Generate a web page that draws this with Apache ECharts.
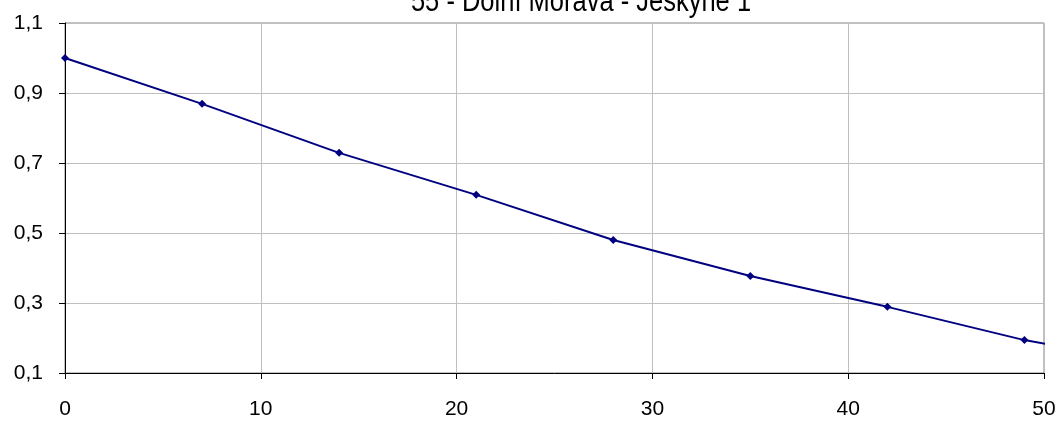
<!DOCTYPE html>
<html>
<head>
<meta charset="utf-8">
<script src="https://cdn.jsdelivr.net/npm/echarts@6/dist/echarts.min.js"></script>
<style>html,body{margin:0;padding:0;background:#fff}#c{width:1062px;height:421px}</style>
</head>
<body>
<div id="c"></div>
<script>
const titleText = '55 - Dolní Morava - Jeskyně 1';
const days = [0, 7, 14, 21, 28, 35, 42, 49, 56];
const values = [1.0, 0.869, 0.729, 0.609, 0.48, 0.377, 0.289, 0.194, 0.126];
const yTicks = [0.1, 0.3, 0.5, 0.7, 0.9, 1.1];
const xTicks = [0, 10, 20, 30, 40, 50];

const FONT = 'Liberation Sans, Arial, sans-serif';
const chart = echarts.init(document.getElementById('c'), null, {renderer: 'canvas'});
chart.setOption({
  animation: false,
  backgroundColor: '#ffffff',
  graphic: [{
    type: 'text', x: 581, y: 4, scaleY: 1.2, originX: 0, originY: 9,
    style: {text: titleText, textAlign: 'center', textVerticalAlign: 'middle',
            font: '25.5px ' + FONT, fill: '#000'}
  }],
  grid: {left: 65, right: 18, top: 23, bottom: 48, show: true, borderColor: '#808080', borderWidth: 1, backgroundColor: 'transparent'},
  xAxis: {
    type: 'value', min: xTicks[0], max: xTicks[xTicks.length - 1], interval: 10,
    axisLine: {show: true, onZero: false, lineStyle: {color: '#000', width: 1}},
    axisTick: {show: true, inside: false, length: 6, lineStyle: {color: '#000'}},
    axisLabel: {color: '#000', fontFamily: FONT, fontSize: 21, margin: 26},
    splitLine: {show: true, lineStyle: {color: '#c0c0c0', width: 1}}
  },
  yAxis: {
    type: 'value', min: yTicks[0], max: yTicks[yTicks.length - 1], interval: 0.2,
    axisLine: {show: true, onZero: false, lineStyle: {color: '#000', width: 1}},
    axisTick: {show: true, inside: false, length: 6, lineStyle: {color: '#000'}},
    axisLabel: {color: '#000', fontFamily: FONT, fontSize: 21, margin: 22,
      formatter: v => (Math.round(v * 10) / 10).toFixed(1).replace('.', ',')},
    splitLine: {show: true, lineStyle: {color: '#c0c0c0', width: 1}}
  },
  series: [{
    type: 'line',
    data: days.map((d, i) => [d, values[i]]),
    clip: true,
    symbol: 'diamond', symbolSize: 8,
    lineStyle: {color: '#000080', width: 2},
    itemStyle: {color: '#000080'}
  }]
});
</script>
</body>
</html>
